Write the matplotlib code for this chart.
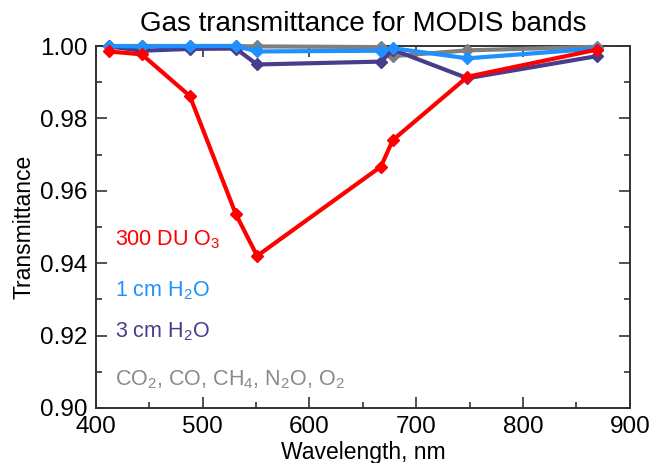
import matplotlib.pyplot as plt
from matplotlib.ticker import MultipleLocator

plt.rcParams['font.family'] = ['Liberation Sans', 'DejaVu Sans']
plt.rcParams['mathtext.fontset'] = 'custom'
plt.rcParams['mathtext.rm'] = 'Liberation Sans'
plt.rcParams['mathtext.it'] = 'Liberation Sans:italic'
plt.rcParams['mathtext.bf'] = 'Liberation Sans:bold'

# MODIS band centres, nm
wavelength = [412, 443, 488, 531, 551, 667, 678, 748, 869]

o3_300du = [0.9985, 0.9977, 0.9862, 0.9536, 0.9420, 0.9667, 0.9740, 0.9915, 0.9990]
h2o_1cm = [1.0000, 0.9999, 1.0000, 1.0000, 0.9985, 0.9987, 0.9994, 0.9966, 0.9993]
h2o_3cm = [0.9999, 0.9987, 0.9992, 0.9993, 0.9949, 0.9957, 0.9990, 0.9911, 0.9972]
other_gases = [1.0000, 1.0000, 1.0000, 1.0000, 0.9999, 0.9997, 0.9972, 0.9988, 0.9998]

series = [
    (other_gases, '#7f7f7f', r'CO$_\mathrm{2}$, CO, CH$_\mathrm{4}$, N$_\mathrm{2}$O, O$_\mathrm{2}$', 0.9077, '#8a8a8a'),
    (h2o_3cm, '#483d8b', r'3 cm H$_\mathrm{2}$O', 0.9210, '#483d8b'),
    (h2o_1cm, '#1e90ff', r'1 cm H$_\mathrm{2}$O', 0.9325, '#1e90ff'),
    (o3_300du, '#ff0000', r'300 DU O$_\mathrm{3}$', 0.9465, '#ff0000'),
]

fig = plt.figure(figsize=(6.52, 4.63), dpi=100)
ax = fig.add_axes([0.147, 0.119, 0.819, 0.7816])

for vals, color, label, ytxt, tcolor in series:
    ax.plot(wavelength, vals, color=color, linewidth=3.0, marker='D',
            markersize=6, clip_on=False, zorder=3)
    ax.text(418, ytxt, label, color=tcolor, fontsize=15.5, va='center', ha='left')

ax.set_xlim(400, 900)
ax.set_ylim(0.90, 1.00)
ax.xaxis.set_major_locator(MultipleLocator(100))
ax.xaxis.set_minor_locator(MultipleLocator(50))
ax.yaxis.set_major_locator(MultipleLocator(0.02))
ax.yaxis.set_minor_locator(MultipleLocator(0.01))
ax.yaxis.set_major_formatter(plt.FormatStrFormatter('%.2f'))
ax.tick_params(which='both', direction='in', top=True, right=True,
               labelsize=17.5, width=1.2, color='#333333')
ax.tick_params(which='major', length=8, pad=6)
ax.tick_params(which='minor', length=4)
for sp in ax.spines.values():
    sp.set_linewidth(1.4)
    sp.set_color('#333333')

ax.set_xlabel('Wavelength, nm', fontsize=16.5, labelpad=2)
ax.set_ylabel('Transmittance', fontsize=16.5, labelpad=3)
ax.set_title('Gas transmittance for MODIS bands', fontsize=20, pad=11)

fig.savefig('out.png', dpi=100)
